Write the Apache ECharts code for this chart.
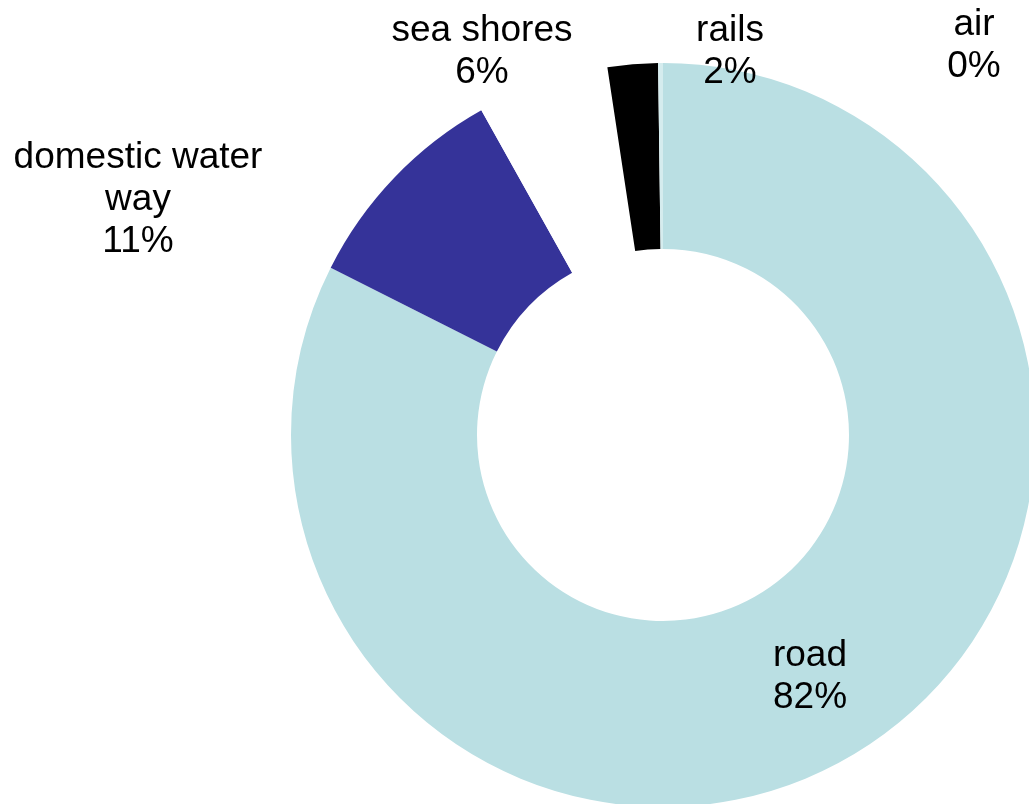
<!DOCTYPE html>
<html>
<head>
<meta charset="utf-8">
<script src="https://cdn.jsdelivr.net/npm/echarts@6/dist/echarts.min.js"></script>
<style>
html,body{margin:0;padding:0;background:#fff;}
#chart{width:1029px;height:804px;}
</style>
</head>
<body>
<div id="chart"></div>
<script>
// Data
const categories = ['road', 'domestic water way', 'sea shores', 'rails', 'air'];
const shareValues = [82.42, 9.46, 5.73, 2.18, 0.21];      // slice sizes (angles read from the ring)
const percentLabels = ['82%', '11%', '6%', '2%', '0%'];   // percentages as printed on the chart

const colors = ['#BADFE3', '#353399', '#FFFFFF', '#000000', '#D5ECEE'];
const displayNames = { 'domestic water way': 'domestic water\nway' };
const labelPos = [
  { x: 810, y: 677 },
  { x: 138, y: 200 },
  { x: 482, y: 52 },
  { x: 730, y: 52 },
  { x: 974, y: 46 }
];

const chart = echarts.init(document.getElementById('chart'), null, { renderer: 'canvas' });
chart.setOption({
  animation: false,
  backgroundColor: '#ffffff',
  series: [{
    type: 'pie',
    center: [663, 435],
    radius: [186, 372],
    startAngle: 90,
    clockwise: true,
    avoidLabelOverlap: false,
    silent: true,
    data: categories.map((c, i) => ({
      name: c,
      value: shareValues[i],
      itemStyle: { color: colors[i] }
    })),
    itemStyle: { borderWidth: 0 },
    label: {
      show: true,
      position: 'outside',
      color: '#000',
      fontFamily: 'Liberation Sans, Arial, sans-serif',
      fontSize: 37,
      lineHeight: 42,
      align: 'center',
      formatter: p => (displayNames[p.name] || p.name) + '\n' + percentLabels[p.dataIndex]
    },
    labelLine: { show: false },
    labelLayout: p => ({
      x: labelPos[p.dataIndex].x,
      y: labelPos[p.dataIndex].y,
      align: 'center',
      verticalAlign: 'middle'
    }),
    emphasis: { disabled: true }
  }]
});
</script>
</body>
</html>
